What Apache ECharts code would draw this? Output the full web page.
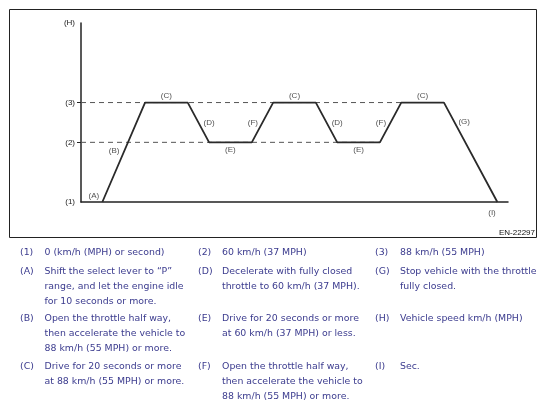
<!DOCTYPE html>
<html>
<head>
<meta charset="utf-8">
<script src="https://cdn.jsdelivr.net/npm/echarts@6/dist/echarts.min.js"></script>
<style>html,body{margin:0;padding:0;background:#fff;}#c{width:545px;height:412px;}</style>
</head>
<body>
<div id="c"></div>
<script>
// ---- data ----
const timeSteps   = [1, 3, 5, 6, 8, 9, 11, 12, 14, 15, 17, 19.5];
const speedLevels = [0, 5, 5, 3, 3, 5, 5, 3, 3, 5, 5, 0];
const levelValues = [0, 3, 5, 9];
const levelLabels = ['(1)', '(2)', '(3)', '(H)'];
const guideLevels = [5, 3];
const guideEnds   = [15, 14];
const phaseNames  = ['(A)', '(B)', '(C)', '(D)', '(E)', '(F)', '(C)', '(D)', '(E)', '(F)', '(C)', '(G)', '(I)'];
const phaseX      = [0.6, 1.55, 4, 6, 7, 8.05, 10, 12, 13, 14.05, 16, 17.95, 19.25];
const phaseY      = [0.3, 2.55, 5.35, 4, 2.6, 4, 5.35, 4, 2.6, 4, 5.35, 4.05, -0.55];
const figureCode  = 'EN-22297';
const legendCols = [
  [['(1)', '0 (km/h (MPH) or second)'],
   ['(A)', 'Shift the select lever to \u201cP\u201d\nrange, and let the engine idle\nfor 10 seconds or more.'],
   ['(B)', 'Open the throttle half way,\nthen accelerate the vehicle to\n88 km/h (55 MPH) or more.'],
   ['(C)', 'Drive for 20 seconds or more\nat 88 km/h (55 MPH) or more.']],
  [['(2)', '60 km/h (37 MPH)'],
   ['(D)', 'Decelerate with fully closed\nthrottle to 60 km/h (37 MPH).'],
   ['(E)', 'Drive for 20 seconds or more\nat 60 km/h (37 MPH) or less.'],
   ['(F)', 'Open the throttle half way,\nthen accelerate the vehicle to\n88 km/h (55 MPH) or more.']],
  [['(3)', '88 km/h (55 MPH)'],
   ['(G)', 'Stop vehicle with the throttle\nfully closed.'],
   ['(H)', 'Vehicle speed km/h (MPH)'],
   ['(I)', 'Sec.']]
];

// ---- layout ----
const colKeyX = [20, 198, 375];
const colTextX = [44.5, 222, 400];
const rowY = [253, 271.7, 319, 367];
const lineH = 15;
const legendColor = '#3b3b8e';
const legendFont = 'DejaVu Sans';

const chart = echarts.init(document.getElementById('c'), null, {renderer: 'canvas'});

const graphics = [{
  type: 'rect', silent: true,
  shape: {x: 9.5, y: 9.5, width: 527, height: 228},
  style: {fill: 'none', stroke: '#222', lineWidth: 1}
}, {
  type: 'text', silent: true, right: 10, top: 229,
  style: {text: figureCode, fill: '#111', font: '8px "Liberation Sans", Arial, sans-serif'}
}];
legendCols.forEach((col, ci) => {
  col.forEach((item, ri) => {
    const top = rowY[ri] - lineH / 2;
    graphics.push({
      type: 'text', silent: true, x: colKeyX[ci], y: top,
      style: {text: item[0], fill: legendColor, font: '9.4px "' + legendFont + '"', lineHeight: lineH, verticalAlign: 'top'}
    });
    graphics.push({
      type: 'text', silent: true, x: colTextX[ci], y: top,
      style: {text: item[1], fill: legendColor, font: '9.4px "' + legendFont + '"', lineHeight: lineH, verticalAlign: 'top'}
    });
  });
});

const guideSeries = guideLevels.map((lv, i) => ({
  type: 'line', silent: true, symbol: 'none', z: 1,
  data: [[0, lv], [guideEnds[i], lv]],
  lineStyle: {color: '#555', width: 1, type: [5, 4]}
}));

chart.setOption({
  animation: false,
  backgroundColor: '#fff',
  grid: {left: 81, right: 37, top: 23, bottom: 210, containLabel: false},
  xAxis: {
    type: 'value', min: 0, max: 20,
    axisLine: {show: true, onZero: false, lineStyle: {color: '#222', width: 1.5}},
    axisTick: {show: false}, axisLabel: {show: false}, splitLine: {show: false}
  },
  yAxis: {
    type: 'value', min: 0, max: 9,
    axisLine: {show: true, lineStyle: {color: '#222', width: 1.5}},
    axisTick: {show: true, inside: false, length: 4, customValues: [3, 5], lineStyle: {color: '#222', width: 1}},
    axisLabel: {
      show: true, margin: 6, customValues: levelValues,
      formatter: v => levelLabels[levelValues.indexOf(v)] || '',
      color: '#222', fontSize: 8, fontFamily: '"Liberation Sans", Arial, sans-serif'
    },
    splitLine: {show: false}
  },
  series: [
    ...guideSeries,
    {
      type: 'line', silent: true, symbol: 'none', z: 3,
      data: timeSteps.map((t, i) => [t, speedLevels[i]]),
      lineStyle: {color: '#2a2a2a', width: 1.8}
    },
    {
      type: 'scatter', silent: true, symbolSize: 0, clip: false, z: 4,
      data: phaseNames.map((n, i) => ({value: [phaseX[i], phaseY[i]], name: n})),
      label: {
        show: true, position: 'inside', formatter: p => p.name,
        color: '#222', fontSize: 8, fontFamily: '"Liberation Sans", Arial, sans-serif'
      }
    }
  ],
  graphic: graphics
});
</script>
</body>
</html>
